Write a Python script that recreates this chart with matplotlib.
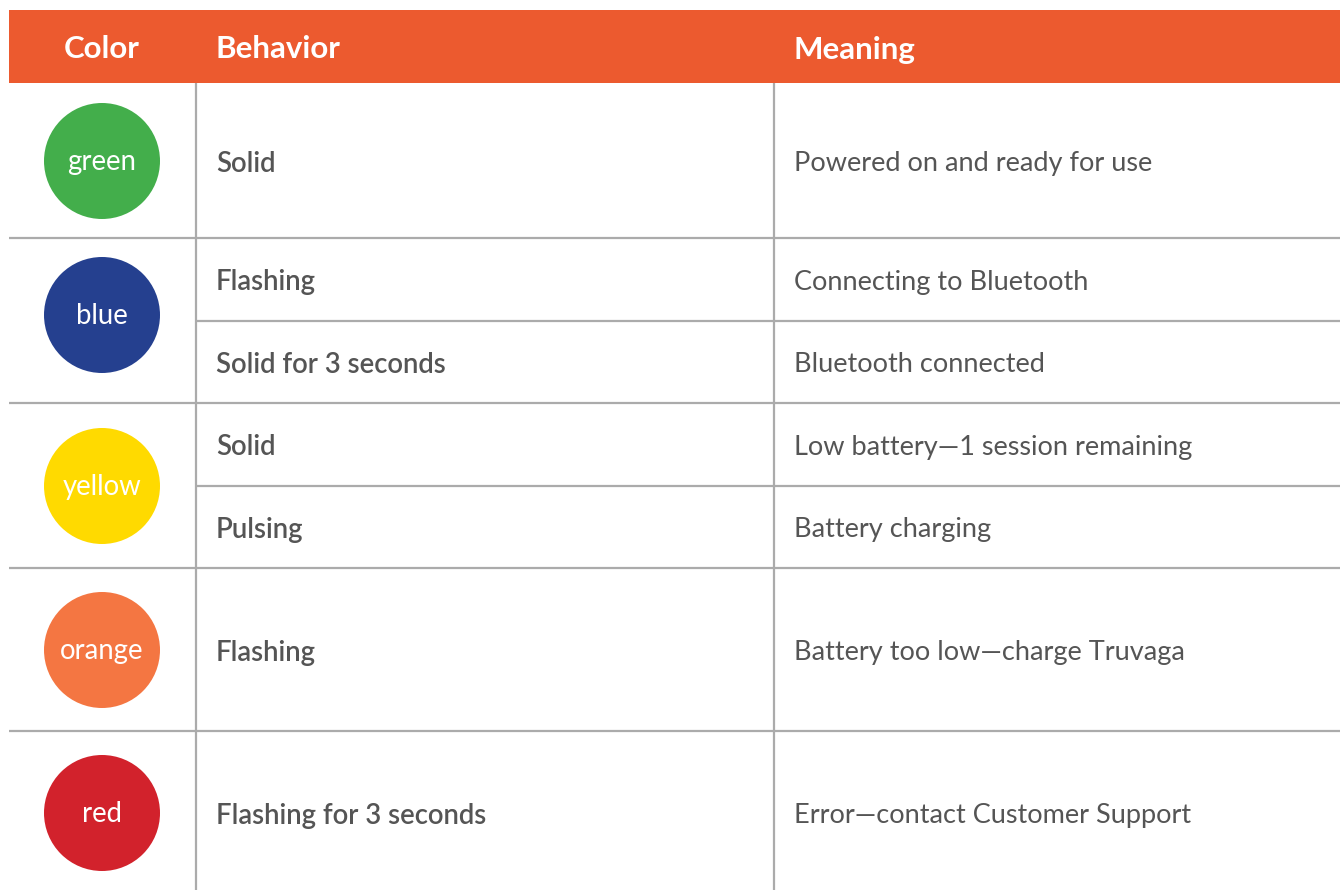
"""
LED status table: light colour, behaviour and meaning.
"""

import matplotlib.pyplot as plt
from matplotlib.patches import Circle, Rectangle

plt.rcParams['font.family'] = ['Lato', 'DejaVu Sans']

# Table content
headers = ['Color', 'Behavior', 'Meaning']
led_names = ['green', 'blue', 'yellow', 'orange', 'red']
led_colors = ['#43ae4b', '#25408f', '#ffda00', '#f47642', '#d2222c']
behaviors = [
    ['Solid'],
    ['Flashing', 'Solid for 3 seconds'],
    ['Solid', 'Pulsing'],
    ['Flashing'],
    ['Flashing for 3 seconds'],
]
meanings = [
    ['Powered on and ready for use'],
    ['Connecting to Bluetooth', 'Bluetooth connected'],
    ['Low battery\u20141 session remaining', 'Battery charging'],
    ['Battery too low\u2014charge Truvaga'],
    ['Error\u2014contact Customer Support'],
]

# Layout (pixels)
W, H = 1340, 890
LEFT = 9
HEADER_TOP, HEADER_BOTTOM = 10, 83
COL1, COL2 = 196, 774
GROUP_EDGES = [83, 238, 403, 568, 731, 895]
CIRCLE_Y = [161, 315, 486, 650, 813]
RADIUS = 58
TEXT_DY = 3
HEADER_COLOR = '#ec5a2f'
LINE_COLOR = '#ababab'
TEXT_COLOR = '#555555'

fig = plt.figure(figsize=(W / 100, H / 100), dpi=100)
ax = fig.add_axes([0, 0, 1, 1])
ax.set_xlim(0, W)
ax.set_ylim(H, 0)
ax.axis('off')

# Header band
ax.add_patch(Rectangle((LEFT, HEADER_TOP), W - LEFT, HEADER_BOTTOM - HEADER_TOP,
                       facecolor=HEADER_COLOR, edgecolor='none'))
header_y = (HEADER_TOP + HEADER_BOTTOM) / 2 + TEXT_DY
ax.text(102, header_y, headers[0], color='white', fontsize=22.5, fontweight='bold',
        ha='center', va='center')
ax.text(COL1 + 20, header_y, headers[1], color='white', fontsize=22.5, fontweight='bold',
        ha='left', va='center')
ax.text(COL2 + 20, header_y, headers[2], color='white', fontsize=22.5, fontweight='bold',
        ha='left', va='center')

# Vertical dividers
for x in (COL1, COL2):
    ax.plot([x, x], [HEADER_BOTTOM, H], color=LINE_COLOR, lw=1.6, solid_capstyle='butt')

for i, name in enumerate(led_names):
    top, bottom = GROUP_EDGES[i], GROUP_EDGES[i + 1]
    if i > 0:
        ax.plot([LEFT, W], [top, top], color=LINE_COLOR, lw=1.6, solid_capstyle='butt')

    cy = CIRCLE_Y[i]
    ax.add_patch(Circle((102, cy), RADIUS, facecolor=led_colors[i], edgecolor='none'))
    ax.text(102, cy + 1, name, color='white', fontsize=19.8, ha='center', va='center')

    n = len(behaviors[i])
    step = (bottom - top) / n
    for j in range(n):
        sy = top + step * (j + 0.5) + TEXT_DY
        if j > 0:
            ly = top + step * j
            ax.plot([COL1, W], [ly, ly], color=LINE_COLOR, lw=1.6, solid_capstyle='butt')
        ax.text(COL1 + 20, sy, behaviors[i][j], color=TEXT_COLOR, fontsize=19.8,
                fontweight='semibold', ha='left', va='center')
        ax.text(COL2 + 20, sy, meanings[i][j], color=TEXT_COLOR, fontsize=19.5,
                ha='left', va='center')

fig.savefig('out.png', dpi=100, facecolor='white')
